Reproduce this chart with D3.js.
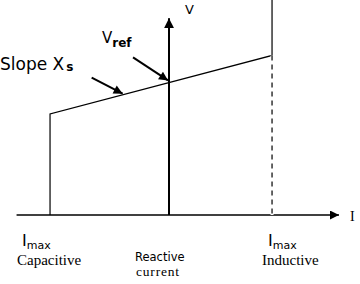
<!DOCTYPE html>
<html>
<head>
<meta charset="utf-8">
<script src="https://cdn.jsdelivr.net/npm/d3@7"></script>
<style>
  body { margin: 0; background: #fff; }
  svg { display: block; }
</style>
</head>
<body>
<script>
// reactive current (per unit, 0 = no current) and voltage (per unit)
var currentRange = [-1.48, 1.65];   // x axis extent
var voltageRange = [0, 1.617];      // y extent (top of picture)
var vAxisTop = 1.48;
var iCapMax = -1.155;
var iIndMax = 1.0;
// V-I characteristic points: vertical at Icap, slope Xs, vertical at Iind
var charCurrent = [iCapMax, iCapMax, iIndMax, iIndMax];
var charVoltage = [0, 0.76, 1.2, 1.617];
var vRef = 0.997;

var width = 360, height = 284;

var svg = d3.select("body").append("svg")
  .attr("width", width)
  .attr("height", height);

var x = d3.scaleLinear().domain([-1.5, 1.65]).range([14.5, 339]);
var y = d3.scaleLinear().domain(voltageRange).range([215, 0]);

var defs = svg.append("defs");
defs.append("marker")
  .attr("id", "tri")
  .attr("viewBox", "0 0 10 10")
  .attr("refX", 10).attr("refY", 5)
  .attr("markerWidth", 10).attr("markerHeight", 11)
  .attr("markerUnits", "userSpaceOnUse")
  .attr("orient", "auto")
  .append("path")
    .attr("d", "M0,0 L10,5 L0,10 Z")
    .style("fill", "black");
defs.append("marker")
  .attr("id", "tri2")
  .attr("viewBox", "0 0 10 10")
  .attr("refX", 10).attr("refY", 5)
  .attr("markerWidth", 12).attr("markerHeight", 9)
  .attr("markerUnits", "userSpaceOnUse")
  .attr("orient", "auto")
  .append("path")
    .attr("d", "M0,0 L10,5 L0,10 Z")
    .style("fill", "black");

// x axis (reactive current)
svg.append("line")
  .attr("x1", x(currentRange[0])).attr("y1", y(0))
  .attr("x2", x(currentRange[1])).attr("y2", y(0))
  .style("stroke", "black").style("stroke-width", 1.5)
  .attr("marker-end", "url(#tri2)");

// V axis
svg.append("line")
  .attr("x1", x(0)).attr("y1", y(0))
  .attr("x2", x(0)).attr("y2", y(vAxisTop))
  .style("stroke", "black").style("stroke-width", 2)
  .attr("marker-end", "url(#tri)");

// characteristic
var pts = charCurrent.map(function(c, i) { return [c, charVoltage[i]]; });
var line = d3.line()
  .x(function(d) { return x(d[0]); })
  .y(function(d) { return y(d[1]); });

svg.append("path")
  .attr("d", line(pts))
  .style("fill", "none")
  .style("stroke", "black")
  .style("stroke-width", 1.2);

// dashed limit at inductive Imax
svg.append("line")
  .attr("x1", x(iIndMax)).attr("y1", y(0))
  .attr("x2", x(iIndMax)).attr("y2", y(charVoltage[2]))
  .style("stroke", "white").style("stroke-width", 3);
svg.append("line")
  .attr("x1", x(iIndMax)).attr("y1", y(charVoltage[2]))
  .attr("x2", x(iIndMax)).attr("y2", y(0))
  .style("stroke", "black").style("stroke-width", 1.2)
  .style("stroke-dasharray", "5,4");

// annotation arrows
function arrow(x1, y1, x2, y2) {
  svg.append("line")
    .attr("x1", x1).attr("y1", y1).attr("x2", x2).attr("y2", y2)
    .style("stroke", "black").style("stroke-width", 2)
    .attr("marker-end", "url(#tri2)");
}
var slopeMid = -0.45;
arrow(x(slopeMid) - 31, y(vRef + slopeMid * 0.205) - 17, x(slopeMid), y(vRef + slopeMid * 0.205) - 1);
arrow(x(0) - 36, y(vRef) - 25, x(0) - 1, y(vRef) - 2);

var sans = "DejaVu Sans", serif = "Liberation Serif";

function label(xp, yp, txt, font, size, weight) {
  return svg.append("text")
    .attr("x", xp).attr("y", yp)
    .style("font-family", font)
    .style("font-size", size + "px")
    .style("font-weight", weight || "normal")
    .style("fill", "black")
    .text(txt);
}

label(x(0) + 16, 14, "V", sans, 13);
label(x(currentRange[1]) + 11, y(0) + 6, "I", serif, 14);

var vr = label(x(0) - 67, 43, "V", sans, 15);
vr.append("tspan").attr("dy", 4).style("font-size", "12px").style("font-weight", "bold").text("ref");

var sl = label(0, 70, "Slope X", sans, 17);
sl.append("tspan").attr("dx", 2).attr("dy", 1).style("font-size", "12px").style("font-weight", "bold").text("s");

var l1 = label(x(iCapMax) - 28, 246, "I", sans, 16);
l1.append("tspan").attr("dy", 3).style("font-size", "11px").text("max");
label(x(iCapMax) - 33, 265, "Capacitive", serif, 15);

var l2 = label(x(iIndMax) - 4, 246, "I", sans, 16);
l2.append("tspan").attr("dy", 3).style("font-size", "11px").text("max");
label(x(iIndMax) - 10, 265, "Inductive", serif, 15);

label(x(0) - 34, 260.5, "Reactive", sans, 11.5);
label(x(0) - 33, 276, "current", serif, 13.5).attr("textLength", 43);
</script>
</body>
</html>
